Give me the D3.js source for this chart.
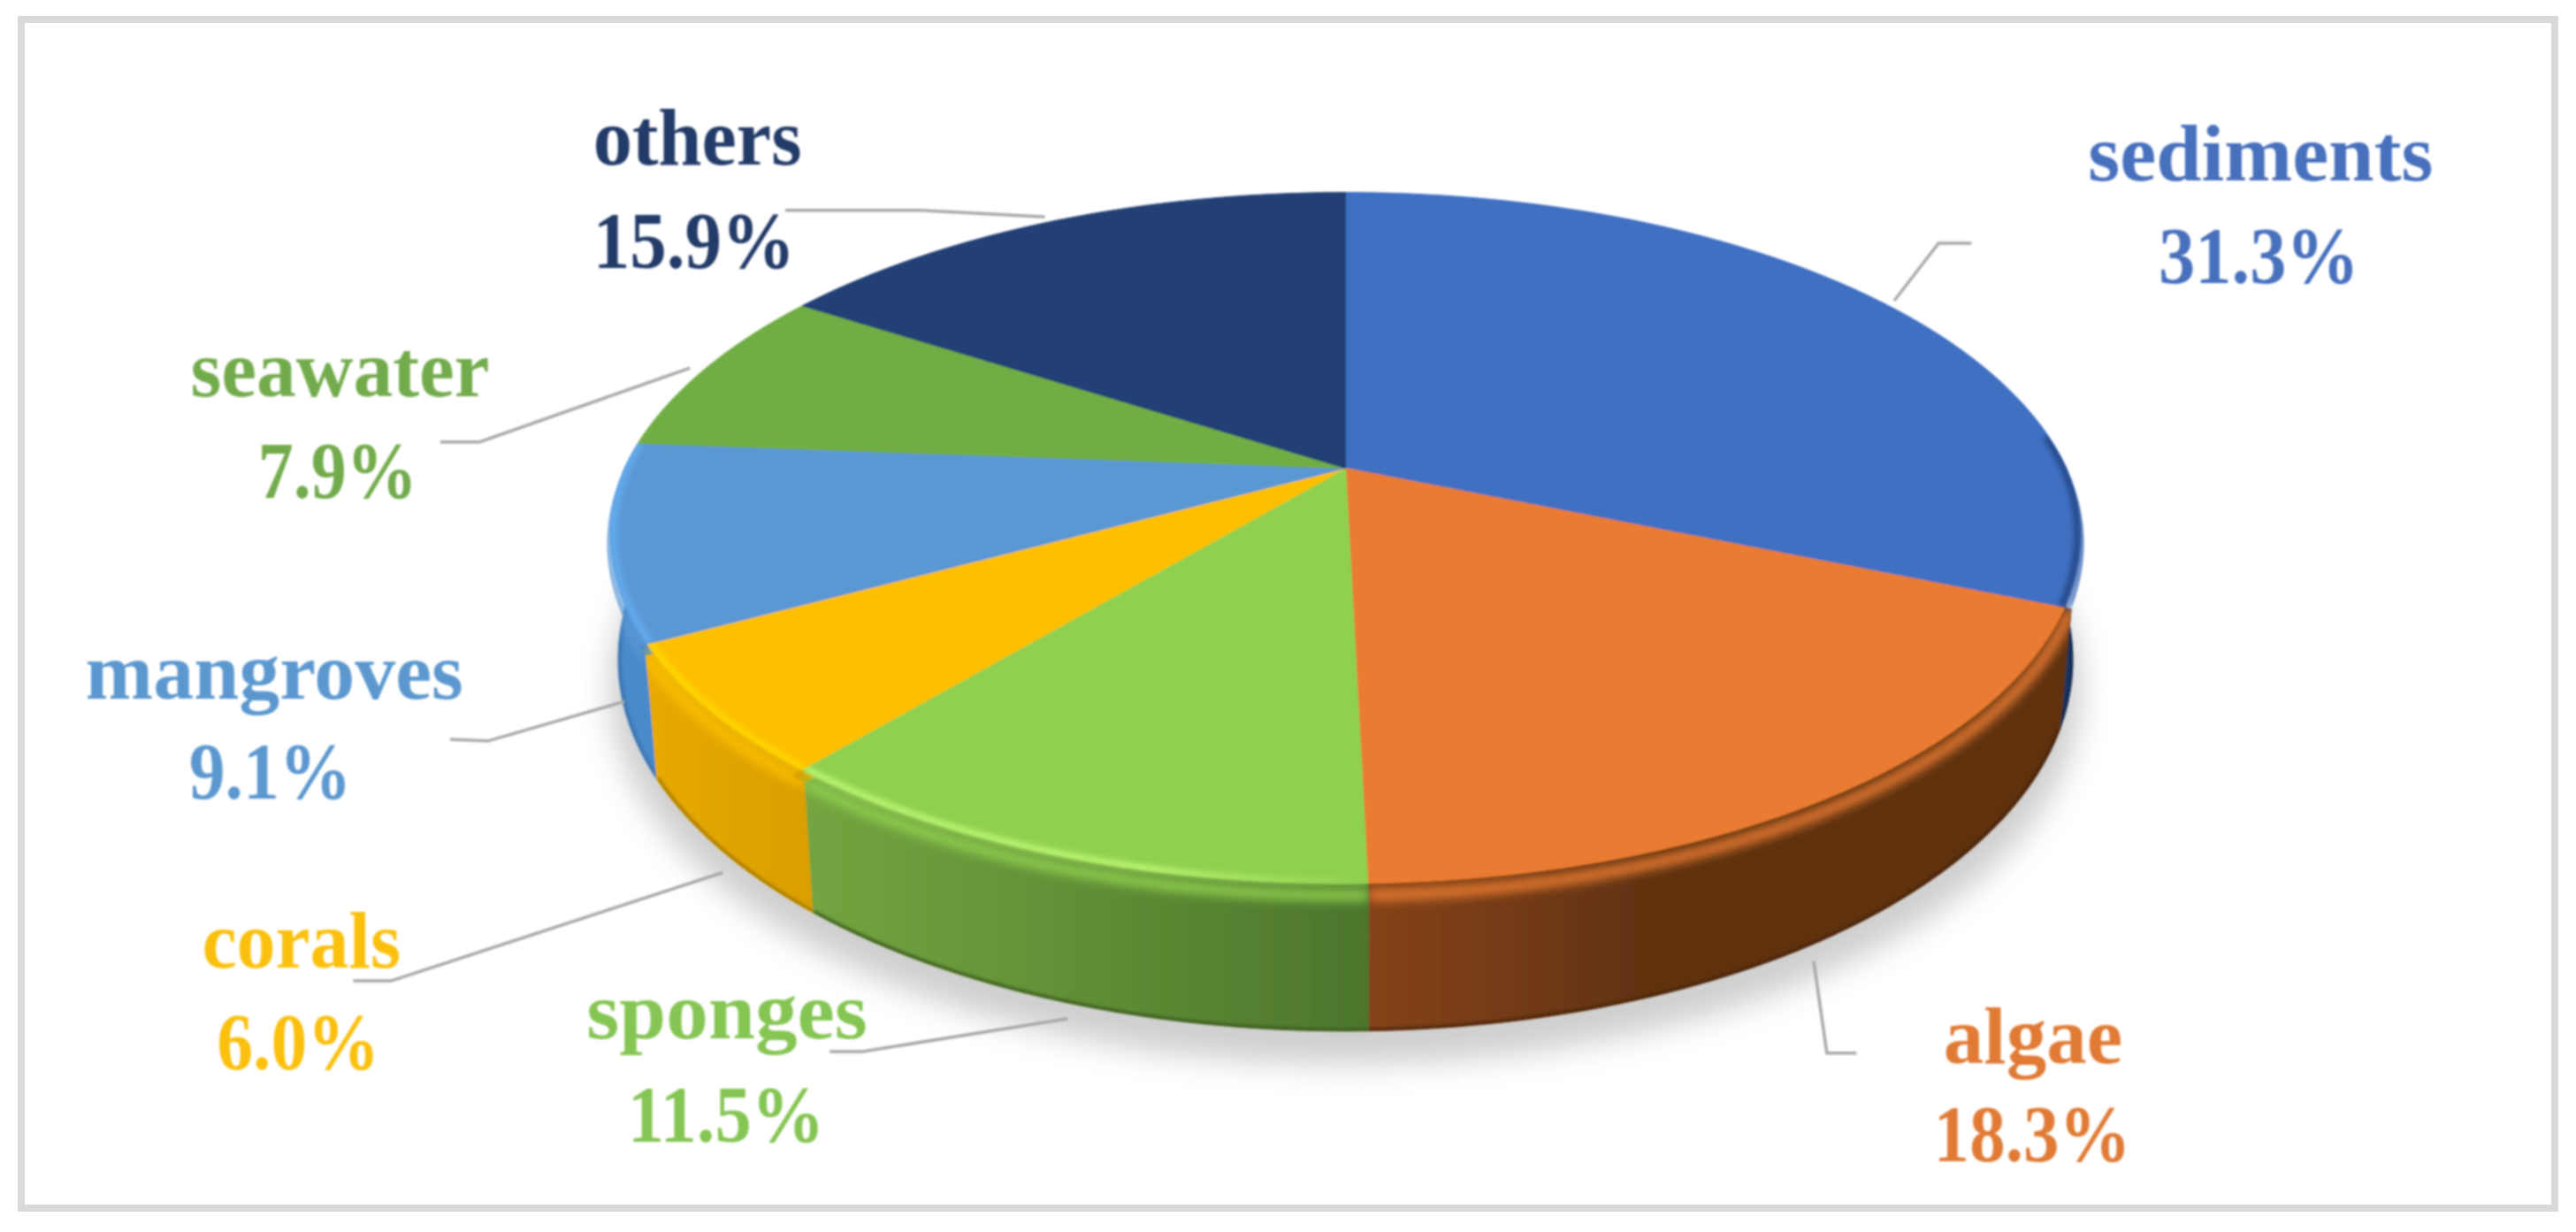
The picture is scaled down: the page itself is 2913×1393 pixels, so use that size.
<!DOCTYPE html>
<html>
<head>
<meta charset="utf-8">
<script src="https://cdn.jsdelivr.net/npm/d3@7"></script>
<style>
html, body { margin: 0; padding: 0; background: #fff; }
svg { display: block; }
text { font-family: "Liberation Serif", serif; font-weight: bold; text-anchor: middle; }
</style>
</head>
<body>
<div id="chart-area"></div>
<script>
// values
const categories = ["sediments", "algae", "sponges", "corals", "mangroves", "seawater", "others"]
const shares = [31.3, 18.3, 11.5, 6.0, 9.1, 7.9, 15.9]
const shareLabels = ["31.3%", "18.3%", "11.5%", "6.0%", "9.1%", "7.9%", "15.9%"]

const topColors = ["#4170c2", "#e97c30", "#90d050", "#fdbf00", "#5a98d4", "#70ad45", "#234175"]
const textColors = ["#4670bd", "#e07a35", "#85c552", "#fbc00f", "#5c98cf", "#72ab4b", "#223a68"]
const wallLeft = ["#2c4c86", "#86431a", "#74a540", "#e8aa00", "#4a8acb", "#4a7a30", "#1a3058"]
const wallRight = ["#1c3766", "#5f3211", "#4d762c", "#d99f00", "#4a8acb", "#4a7a30", "#1a3058"]
const rimColors = ["#1f3e78", "#a8561f", "#c2ff78", "#ffdc00", "#66b0f5", "#70ad45", "#234175"]
const edgeColors = ["#14294d", "#4b280d", "#3c5c20", "#a87c00", "#3c74ad", "#4a7a30", "#1a3058"]

// layout is in the units of the 1568 wide picture, K brings it to the page
const K = 2913 / 1568
const WIDTH = 2913
const HEIGHT = 1393
const FONT = 90
// name x, name baseline, name width, value x, value baseline, value width
const labelPos = [
	[1376, 110, 210, 1375, 172, 122],
	[1237.5, 647, 109, 1237, 707, 120],
	[442.5, 632, 171, 442, 695, 120],
	[183.5, 589, 121, 181.5, 651, 99],
	[167, 425, 230, 164.5, 486, 99],
	[207, 241, 182, 205.5, 303, 97],
	[424.5, 100, 127, 422.5, 163, 123]
]
const leaders = [
	[[1153, 183], [1180, 148], [1200, 148]],
	[[1104, 585], [1112, 641], [1130, 641]],
	[[505, 640], [525, 640], [650, 620]],
	[[215, 597], [238, 597], [440, 531]],
	[[274, 450], [297, 451], [380, 427]],
	[[268, 269], [292, 269], [420, 224]],
	[[478, 128], [560, 128], [636, 132]]
]

// perspective disc, fitted on the slice corners
const CX = 819, CY = 285, RX = 439, RY = 204, TILT = 0.215, DEPTH = 68, SHRINK = 0.985

function project(angle, z, r) {
	const u = Math.sin(angle) * r
	const v = -Math.cos(angle) * r
	const den = 1 - TILT * v
	const s = 1 - (1 - SHRINK) * z
	return [K * (CX + RX * s * u / den), K * (CY + (RY * s * v + DEPTH * z) / den)]
}

// front of the top face is pulled in a bit, the bevel sits there
const insetOf = a => 1 - 0.022 * Math.max(0, -Math.cos(a))

// wall seams on the left sit about 1.5 degrees nearer the front than the flat disc gives
const seamAngle = a => a - (1.5 * Math.PI / 180) * Math.max(0, Math.min(1, (a - Math.PI) / (Math.PI / 4)))

const svg = d3.select("#chart-area").append("svg")
	.attr("width", WIDTH)
	.attr("height", HEIGHT)

const defs = svg.append("defs")
const blur = (id, dev) => defs.append("filter").attr("id", id)
	.attr("filterUnits", "userSpaceOnUse")
	.attr("x", 0).attr("y", 0).attr("width", WIDTH).attr("height", HEIGHT)
	.append("feGaussianBlur").attr("stdDeviation", dev)
blur("soft", 1.2)
blur("text", 0.8)
blur("rim", 3)
blur("bevel", 6)
blur("edge", 1.5)
blur("shade", 17)

svg.append("rect")
	.attr("x", 24).attr("y", 22)
	.attr("width", 2865).attr("height", 1344)
	.attr("fill", "#fff")
	.attr("stroke", "#d9d9d9")
	.attr("stroke-width", 8)

const pie = d3.pie().sort(null).value(d => d)
const slices = pie(shares)
const line = d3.line()
const anglesOf = (a0, a1) => d3.range(0, 61).map(i => a0 + (a1 - a0) * i / 60)
// the part of a slice's rim that faces the viewer
const frontAngles = s => anglesOf(s.startAngle, s.endAngle).filter(a => -Math.cos(a) > -0.12)

const chart = svg.append("g")

// shadow under the disc
chart.append("path")
	.attr("d", line(anglesOf(0, 2 * Math.PI).map(a => {
		const p = project(a, 1, 1.012)
		return [p[0], p[1] + 30]
	})) + "Z")
	.attr("fill", "#cfcfcf")
	.attr("filter", "url(#shade)")

const disc = chart.append("g").attr("filter", "url(#soft)")

// walls, they reach under the top face so no gap shows at the bevel
slices.forEach((s, i) => {
	const angles = anglesOf(seamAngle(s.startAngle), seamAngle(s.endAngle))
	const pts = angles.map(a => project(a, 0, 1)).concat(angles.slice().reverse().map(a => project(a, 1, 1)))
	const under = [project(angles[0], 0, 1), project(angles[0], 0, 0.93)]
		.concat(angles.map(a => project(a, 0, 0.93)))
		.concat([project(angles[60], 0, 1)])
	const xs = d3.extent(pts, p => p[0])
	const grad = defs.append("linearGradient")
		.attr("id", "wall" + i)
		.attr("gradientUnits", "userSpaceOnUse")
		.attr("x1", xs[0]).attr("x2", xs[1])
		.attr("y1", 0).attr("y2", 0)
	// algae goes dark early and stays there
	grad.append("stop").attr("offset", 0).attr("stop-color", i === 1 ? wallRight[i] : wallLeft[i])
	grad.append("stop").attr("offset", 1).attr("stop-color", i === 1 ? wallLeft[i] : wallRight[i])
	if (i === 1) {
		grad.attr("x1", K * 1010).attr("x2", K * 832)
	}
	disc.append("path")
		.attr("d", line(under.concat(angles.slice().reverse().map(a => project(a, 1, 1)))) + "Z")
		.attr("fill", `url(#wall${i})`)
		.attr("stroke", `url(#wall${i})`)
		.attr("stroke-width", 1)

	// the blurred rim strokes stay inside their own slice
	const clip = defs.append("clipPath").attr("id", "slice" + i)
	clip.append("path").attr("d", line([[K * CX, K * CY]].concat(anglesOf(s.startAngle, s.endAngle).map(a => project(a, 0, 1)))) + "Z")
	clip.append("path").attr("d", line(pts) + "Z")
})

// dark line along the foot of the wall
slices.forEach((s, i) => {
	const angles = frontAngles(s).map(seamAngle)
	if (angles.length < 2) return
	disc.append("path")
		.attr("d", line(angles.map(a => project(a, 1, 0.998))))
		.attr("fill", "none")
		.attr("stroke", edgeColors[i])
		.attr("stroke-width", 4)
		.attr("filter", "url(#edge)")
		.attr("clip-path", `url(#slice${i})`)
})

// soft colour over the wall top, that is the round of the bevel
slices.forEach((s, i) => {
	const angles = frontAngles(s).map(seamAngle)
	if (angles.length < 2) return
	disc.append("path")
		.attr("d", line(angles.map(a => project(a, 0, 1))))
		.attr("fill", "none")
		.attr("stroke", topColors[i])
		.attr("stroke-width", 12)
		.attr("filter", "url(#bevel)")
		.attr("clip-path", `url(#slice${i})`)
})

// top faces
slices.forEach((s, i) => {
	const pts = [[K * CX, K * CY]].concat(anglesOf(s.startAngle, s.endAngle).map(a => project(a, 0, insetOf(a))))
	disc.append("path")
		.attr("d", line(pts) + "Z")
		.attr("fill", topColors[i])
		.attr("stroke", topColors[i])
		.attr("stroke-width", 1)
})

// highlight on the bevel, only on the lit slices
const rimFade = defs.append("linearGradient")
	.attr("id", "rimFade")
	.attr("gradientUnits", "userSpaceOnUse")
	.attr("x1", K * 495).attr("x2", K * 832)
	.attr("y1", 0).attr("y2", 0)
rimFade.append("stop").attr("offset", 0).attr("stop-color", rimColors[2])
rimFade.append("stop").attr("offset", 0.6).attr("stop-color", rimColors[2])
rimFade.append("stop").attr("offset", 1).attr("stop-color", topColors[2])

slices.forEach((s, i) => {
	if (i === 1 || i === 5 || i === 6) return
	const angles = frontAngles(s)
	if (angles.length < 2) return
	disc.append("path")
		.attr("d", line(angles.map(a => project(a, 0, insetOf(a) - 0.004))))
		.attr("fill", "none")
		.attr("stroke", i === 2 ? "url(#rimFade)" : rimColors[i])
		.attr("stroke-width", 6)
		.attr("filter", "url(#rim)")
		.attr("clip-path", `url(#slice${i})`)
})

// leader lines
svg.append("g").selectAll("path").data(leaders).join("path")
	.attr("d", d => line(d.map(p => [p[0] * K, p[1] * K])))
	.attr("fill", "none")
	.attr("stroke", "#a9a9a9")
	.attr("stroke-width", 3.5)
	.attr("filter", "url(#soft)")

// labels
const labels = svg.append("g").attr("font-size", FONT).attr("filter", "url(#text)")
categories.forEach((c, i) => {
	const p = labelPos[i]
	labels.append("text")
		.attr("x", p[0] * K)
		.attr("y", p[1] * K)
		.attr("textLength", p[2] * K)
		.attr("lengthAdjust", "spacingAndGlyphs")
		.attr("fill", textColors[i])
		.text(c)
	labels.append("text")
		.attr("x", p[3] * K)
		.attr("y", p[4] * K)
		.attr("textLength", p[5] * K)
		.attr("lengthAdjust", "spacingAndGlyphs")
		.attr("fill", textColors[i])
		.text(shareLabels[i])
})
</script>
</body>
</html>
